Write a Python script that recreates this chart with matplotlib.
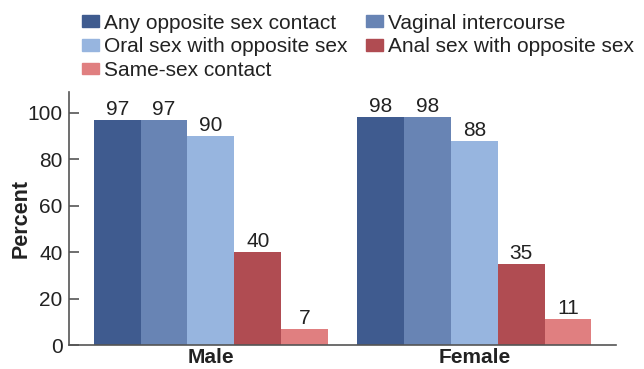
import numpy as np
import matplotlib.pyplot as plt
from matplotlib.patches import Patch

plt.rcParams['font.family'] = ['Liberation Sans', 'DejaVu Sans']

#Data
groups = ['Male', 'Female']
series = ['Any opposite sex contact', 'Vaginal intercourse',
          'Oral sex with opposite sex', 'Anal sex with opposite sex',
          'Same-sex contact']
male = [97, 97, 90, 40, 7]
female = [98, 98, 88, 35, 11]
colors = ['#3F5B8F', '#6884B4', '#97B5DF', '#B04C52', '#E07F80']

fig = plt.figure(figsize=(6.44, 3.69), dpi=100)
ax = fig.add_axes([0.107, 0.065, 0.85, 0.686])

group_pos = np.array([0.0, 5.62])
offsets = np.arange(5) - 2
for i, name in enumerate(series):
    vals = [male[i], female[i]]
    bars = ax.bar(group_pos + offsets[i], vals, width=1.0, color=colors[i], label=name)
    for b, v in zip(bars, vals):
        ax.annotate(str(v), (b.get_x() + b.get_width() / 2, v), xytext=(0, 3.6),
                    textcoords='offset points', ha='center', va='baseline',
                    fontsize=15, color='#222222')

ax.set_xlim(-3.03, 8.65)
ax.set_ylim(0, 109)
ax.set_yticks([0, 20, 40, 60, 80, 100])
ax.set_xticks(group_pos)
ax.set_xticklabels(groups, fontsize=15, fontweight='bold', color='#222222')
ax.tick_params(axis='x', length=0, pad=2)
ax.tick_params(axis='y', direction='in', length=7.5, width=1.2, labelsize=15,
               colors='#555555', labelcolor='#222222', pad=4.5)
ax.set_ylabel('Percent', fontsize=15.5, fontweight='bold', color='#222222')
ax.yaxis.set_label_coords(-0.068, 0.5)
for s in ['top', 'right']:
    ax.spines[s].set_visible(False)
for s in ['left', 'bottom']:
    ax.spines[s].set_color('#555555')
    ax.spines[s].set_linewidth(1.2)

handles = [Patch(color=c) for c in colors]
order = [0, 2, 4, 1, 3]
fig.legend([handles[k] for k in order], [series[k] for k in order],
           loc='upper left', bbox_to_anchor=(0.127, 0.963), ncol=2, frameon=False,
           fontsize=15, handlelength=0.82, handleheight=0.48, handletextpad=0.24,
           columnspacing=0.9, labelspacing=0.22, borderaxespad=0, borderpad=0,
           labelcolor='#222222')

plt.savefig('out.png', dpi=100)
